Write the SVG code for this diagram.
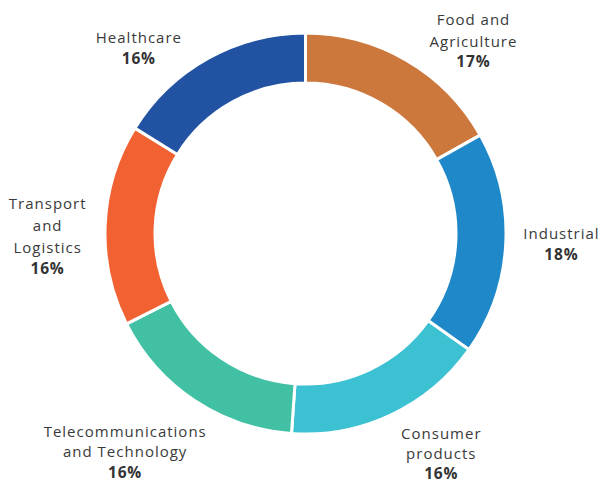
<svg xmlns="http://www.w3.org/2000/svg" width="600" height="483" viewBox="0 0 600 483">
<style>
.seg{stroke:#fff;stroke-width:3;stroke-linejoin:miter}
.lbl{font-family:"Open Sans","Noto Sans",sans-serif;font-size:15px;fill:#3a3a3a;text-anchor:middle;letter-spacing:1px}
.pct{font-weight:bold;fill:#333;font-size:15.5px;letter-spacing:0.8px}
</style>
<rect width="600" height="483" fill="#fff"/>
<g id="ring">
<path id="food" class="seg" fill="#CC773C" d="M305.5,33 A200.5,200.5 0 0 1 480.19,135.07 L436.62,159.62 A150.5,150.5 0 0 0 305.5,83 Z"/>
<path id="industrial" class="seg" fill="#1F88C9" d="M480.19,135.07 A200.5,200.5 0 0 1 468.94,349.65 L428.18,320.69 A150.5,150.5 0 0 0 436.62,159.62 Z"/>
<path id="consumer" class="seg" fill="#3BC1D2" d="M468.94,349.65 A200.5,200.5 0 0 1 291.51,433.51 L295,383.63 A150.5,150.5 0 0 0 428.18,320.69 Z"/>
<path id="telecom" class="seg" fill="#41C0A4" d="M291.51,433.51 A200.5,200.5 0 0 1 126.54,323.9 L171.17,301.36 A150.5,150.5 0 0 0 295,383.63 Z"/>
<path id="transport" class="seg" fill="#F26132" d="M126.54,323.9 A200.5,200.5 0 0 1 134.91,128.14 L177.45,154.42 A150.5,150.5 0 0 0 171.17,301.36 Z"/>
<path id="healthcare" class="seg" fill="#2253A3" d="M134.91,128.14 A200.5,200.5 0 0 1 305.5,33 L305.5,83 A150.5,150.5 0 0 0 177.45,154.42 Z"/>
</g>
<g id="label-healthcare" class="lbl">
<text x="138.9" y="42.7">Healthcare</text>
<text class="pct" x="138.8" y="64.3">16%</text>
</g>
<g id="label-food" class="lbl">
<text x="473.5" y="25">Food and</text>
<text x="473.5" y="46.5">Agriculture</text>
<text class="pct" x="473.4" y="67">17%</text>
</g>
<g id="label-industrial" class="lbl">
<text x="561.5" y="239">Industrial</text>
<text class="pct" x="561.4" y="260">18%</text>
</g>
<g id="label-consumer" class="lbl">
<text x="441.3" y="439">Consumer</text>
<text x="441.3" y="459">products</text>
<text class="pct" x="441.2" y="479">16%</text>
</g>
<g id="label-telecom" class="lbl">
<text x="125.2" y="437">Telecommunications</text>
<text x="125.2" y="457">and Technology</text>
<text class="pct" x="125.1" y="477.5">16%</text>
</g>
<g id="label-transport" class="lbl">
<text x="47.7" y="208.5">Transport</text>
<text x="47.7" y="230.5">and</text>
<text x="47.7" y="252.5">Logistics</text>
<text class="pct" x="47.6" y="273.5">16%</text>
</g>
</svg>
